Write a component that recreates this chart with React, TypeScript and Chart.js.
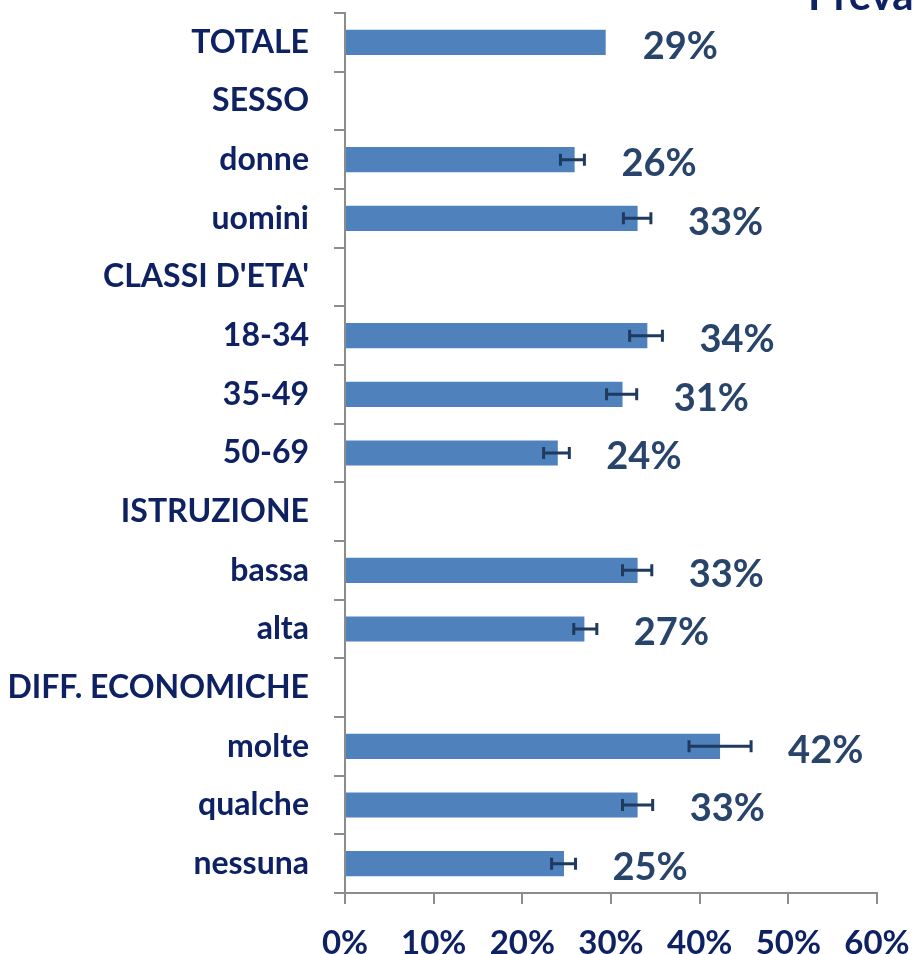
import React, { useEffect, useRef } from "react";
import { Chart, registerables } from "chart.js";

Chart.register(...registerables);

const categories = [
  "TOTALE", "SESSO", "donne", "uomini", "CLASSI D'ETA'", "18-34", "35-49", "50-69",
  "ISTRUZIONE", "bassa", "alta", "DIFF. ECONOMICHE", "molte", "qualche", "nessuna",
];
const values: (number | null)[] = [29.4, null, 25.9, 33.0, null, 34.1, 31.3, 24.0, null, 33.0, 27.0, null, 42.3, 33.0, 24.7];
const errLow: (number | null)[] = [null, null, 24.3, 31.4, null, 32.1, 29.5, 22.4, null, 31.3, 25.8, null, 38.8, 31.3, 23.3];
const errHigh: (number | null)[] = [null, null, 27.0, 34.5, null, 35.8, 32.9, 25.3, null, 34.6, 28.4, null, 45.8, 34.7, 26.0];
const valueLabels: (string | null)[] = ["29%", null, "26%", "33%", null, "34%", "31%", "24%", null, "33%", "27%", null, "42%", "33%", "25%"];
const xTicks = [0, 10, 20, 30, 40, 50, 60];
const titleText = "Prevalenza";

const NAVY = "#0E2263";
const LABEL = "#29446B";
const BAR = "#4F81BD";
const ERR = "#1F3A5F";
const AXIS = "#8C8C8C";
const FONT = "Lato, 'Open Sans', sans-serif";

const overlay = {
  id: "overlay",
  afterDatasetsDraw(chart: any) {
    const ctx = chart.ctx;
    const x = chart.scales.x;
    const y = chart.scales.y;
    ctx.save();
    ctx.strokeStyle = ERR;
    ctx.lineWidth = 3;
    errLow.forEach((lo, i) => {
      const hi = errHigh[i];
      if (lo == null || hi == null) return;
      const cy = y.getPixelForValue(i);
      const x1 = x.getPixelForValue(lo);
      const x2 = x.getPixelForValue(hi);
      ctx.beginPath();
      ctx.moveTo(x1, cy);
      ctx.lineTo(x2, cy);
      ctx.moveTo(x1, cy - 6);
      ctx.lineTo(x1, cy + 6);
      ctx.moveTo(x2, cy - 6);
      ctx.lineTo(x2, cy + 6);
      ctx.stroke();
    });
    ctx.fillStyle = LABEL;
    ctx.font = `bold 38px ${FONT}`;
    ctx.textAlign = "left";
    ctx.textBaseline = "middle";
    valueLabels.forEach((lab, i) => {
      const v = values[i];
      if (lab == null || v == null) return;
      const end = Math.max(v, errHigh[i] ?? v);
      const px = x.getPixelForValue(end) + 37;
      const py = y.getPixelForValue(i) + 4;
      ctx.fillText(lab, px, py);
    });
    ctx.fillStyle = NAVY;
    ctx.font = `bold 42px ${FONT}`;
    ctx.textBaseline = "alphabetic";
    ctx.fillText(titleText, 808, 10);
    ctx.restore();
  },
};

export default function App() {
  const ref = useRef<HTMLCanvasElement | null>(null);
  useEffect(() => {
    if (!ref.current) return;
    const chart = new Chart(ref.current, {
      type: "bar",
      data: {
        labels: categories,
        datasets: [
          {
            data: values as any,
            backgroundColor: BAR,
            barPercentage: 0.86,
            categoryPercentage: 0.5,
          },
        ],
      },
      options: {
        indexAxis: "y",
        responsive: false,
        animation: false,
        layout: { padding: { top: 13, right: 37, left: 0, bottom: 0 } },
        plugins: { legend: { display: false }, tooltip: { enabled: false }, title: { display: false } },
        scales: {
          x: {
            min: 0,
            max: 60,
            afterFit: (s: any) => {
              s.height = 61;
              s.paddingLeft = 0; s.paddingRight = 0; s.paddingTop = 0; s.paddingBottom = 0;
            },
            afterBuildTicks: (s: any) => { s.ticks = xTicks.map((v) => ({ value: v })); },
            ticks: {
              callback: (v: any) => v + "%",
              color: NAVY,
              font: { family: FONT, size: 33, weight: "bold" },
              padding: 20,
              maxRotation: 0,
            },
            grid: { drawOnChartArea: false, drawTicks: true, tickLength: 11, color: AXIS, lineWidth: 2 },
            border: { color: AXIS, width: 2 },
          },
          y: {
            afterFit: (s: any) => {
              s.width = 345;
              s.paddingLeft = 0; s.paddingRight = 0; s.paddingTop = 0; s.paddingBottom = 0;
            },
            ticks: {
              color: NAVY,
              font: { family: FONT, size: 32, weight: "bold" },
              padding: 25,
              autoSkip: false,
            },
            grid: { drawOnChartArea: false, drawTicks: true, tickLength: 11, color: AXIS, lineWidth: 2, offset: true },
            border: { color: AXIS, width: 2 },
          },
        },
      },
      plugins: [overlay],
    });
    return () => chart.destroy();
  }, []);
  return (
    <div style={{ position: "absolute", left: 0, top: 0, width: 914, height: 954, background: "#fff" }}>
      <canvas ref={ref} width={914} height={954} style={{ display: "block" }} />
    </div>
  );
}
